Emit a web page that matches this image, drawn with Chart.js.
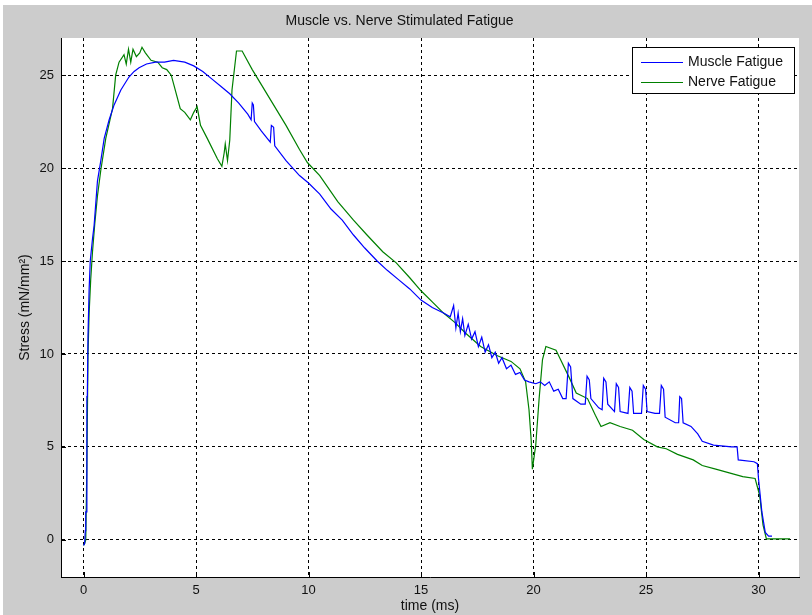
<!DOCTYPE html>
<html>
<head>
<meta charset="utf-8">
<title>Muscle vs. Nerve Stimulated Fatigue</title>
<script src="https://cdn.jsdelivr.net/npm/chart.js@4.4.1/dist/chart.umd.min.js"></script>
<style>
  html, body { margin: 0; padding: 0; background: #fff; }
  canvas { display: block; }
</style>
</head>
<body>
<canvas id="chart" width="812" height="615"></canvas>
<script>
// values: time in ms, stress in mN/mm^2
const muscleTime = [
  0.00, 0.05, 0.08, 0.10, 0.13, 0.15, 0.17, 0.20, 0.25, 0.30, 0.40, 0.47, 0.62, 0.77, 0.92,
  1.14, 1.36, 1.66, 2.02, 2.25, 2.47, 2.80, 3.20, 3.60, 4.00, 4.50, 4.90, 5.30, 5.70, 6.10,
  6.50, 6.90, 7.30, 7.45, 7.50, 7.55, 7.60, 7.90, 8.30, 8.35, 8.45, 8.50, 9.00, 9.60, 10.00,
  10.50, 11.00, 11.50, 12.00, 12.50, 13.05, 13.50, 14.00, 14.50, 15.00, 15.50, 16.00, 16.30,
  16.45, 16.55, 16.65, 16.75, 16.85, 16.95, 17.10, 17.25, 17.40, 17.55, 17.70, 17.85, 18.00,
  18.15, 18.30, 18.45, 18.60, 18.80, 19.00, 19.20, 19.40, 19.60, 19.80, 20.10, 20.30, 20.50,
  20.70, 20.90, 21.10, 21.30, 21.45, 21.55, 21.65, 21.75, 22.10, 22.30, 22.38, 22.48, 22.55,
  22.90, 23.05, 23.12, 23.22, 23.30, 23.60, 23.68, 23.78, 23.85, 24.20, 24.28, 24.38, 24.45,
  24.80, 24.88, 24.98, 25.05, 25.40, 25.60, 25.68, 25.78, 25.85, 26.30, 26.45, 26.50, 26.58,
  26.65, 27.00, 27.30, 27.50, 28.00, 28.80, 29.05, 29.10, 29.80, 29.95, 30.00, 30.15, 30.30,
  30.45, 30.60
];
const muscleStress = [
  -0.3, -0.2, 0.5, 1.5, 1.5, 7.7, 7.7, 11.0, 13.5, 15.0, 16.2, 16.9, 19.3, 20.4, 21.6,
  22.6, 23.4, 24.2, 24.9, 25.2, 25.4, 25.6, 25.7, 25.7, 25.8, 25.7, 25.5, 25.2, 24.8, 24.4,
  24.0, 23.5, 22.9, 22.6, 23.5, 23.4, 22.5, 22.0, 21.4, 22.3, 22.2, 21.2, 20.4, 19.6, 19.2,
  18.6, 17.8, 17.2, 16.4, 15.7, 15.0, 14.5, 14.0, 13.5, 12.9, 12.5, 12.2, 12.0,
  12.6, 11.4, 12.2, 11.2, 11.9, 11.0, 11.6, 10.8, 11.2, 10.4, 10.9, 10.1, 10.5,
  9.8, 10.1, 9.5, 9.8, 9.2, 9.4, 8.9, 9.0, 8.6, 8.5, 8.4, 8.5, 8.3,
  8.5, 8.0, 8.1, 7.6, 7.6, 9.5, 9.3, 7.6, 7.3, 7.3, 8.8, 8.6, 7.6,
  7.1, 7.0, 8.7, 8.5, 7.3, 6.9, 8.4, 8.2, 6.9, 6.8, 8.2, 8.0, 6.8,
  6.8, 8.3, 8.1, 6.9, 6.8, 6.8, 8.3, 8.1, 6.6, 6.3, 6.3, 7.7, 7.6,
  6.3, 6.1, 5.7, 5.3, 5.1, 5.0, 5.0, 4.3, 4.2, 4.1, 3.3, 1.5, 0.4,
  0.2, 0.2
];

const nerveTime = [
  0.00, 0.05, 0.10, 0.15, 0.20, 0.25, 0.32, 0.40, 0.50, 0.62, 0.77, 0.99, 1.29, 1.43, 1.58,
  1.80, 1.90, 2.00, 2.10, 2.20, 2.35, 2.50, 2.60, 2.75, 3.00, 3.30, 3.50, 3.70, 3.90, 4.10,
  4.30, 4.50, 4.75, 4.90, 5.05, 5.20, 5.50, 5.95, 6.15, 6.25, 6.30, 6.40, 6.50, 6.60, 6.80,
  7.05, 7.50, 8.30, 9.00, 9.60, 9.95, 10.50, 11.30, 12.00, 12.60, 13.30, 13.90, 14.50, 15.00,
  15.50, 16.00, 16.50, 17.00, 17.65, 18.40, 19.00, 19.40, 19.65, 19.80, 19.90, 19.95, 20.10,
  20.25, 20.40, 20.55, 21.00, 21.20, 21.60, 21.90, 22.40, 22.75, 23.00, 23.40, 23.85, 24.40,
  24.90, 25.50, 25.90, 26.40, 27.10, 27.50, 28.10, 28.70, 29.30, 29.85, 30.05, 30.20, 30.35,
  31.40
];
const nerveStress = [
  -0.3, -0.2, 0.0, 4.0, 10.0, 12.2, 14.0, 15.5, 17.0, 18.5, 19.9, 21.6, 23.2, 25.0, 25.7,
  26.1, 25.6, 26.4, 25.7, 26.4, 26.0, 26.2, 26.5, 26.2, 25.8, 25.7, 25.4, 25.3, 25.0, 24.1,
  23.2, 23.0, 22.6, 23.0, 23.3, 22.3, 21.6, 20.5, 20.1, 20.8, 21.3, 20.4, 21.5, 24.2, 26.3,
  26.3, 25.3, 23.7, 22.3, 21.0, 20.3, 19.6, 18.2, 17.2, 16.4, 15.5, 14.9, 14.1, 13.4,
  12.8, 12.2, 11.7, 11.1, 10.4, 9.9, 9.6, 9.2, 8.5, 7.0, 5.3, 3.8, 5.1,
  7.6, 9.7, 10.4, 10.2, 9.7, 8.7, 7.9, 7.6, 6.7, 6.1, 6.3, 6.1, 5.9,
  5.4, 5.0, 4.9, 4.6, 4.3, 4.0, 3.8, 3.6, 3.4, 3.3, 2.4, 0.8, 0.05,
  0.05
];

const seriesNames = ['Muscle Fatigue', 'Nerve Fatigue'];
const seriesColors = ['#0000ff', '#008000'];
const xTicks = [0, 5, 10, 15, 20, 25, 30];
const yTicks = [0, 5, 10, 15, 20, 25];

const FONT = '"Liberation Sans", Arial, sans-serif';

function toPoints(xs, ys) {
  return xs.map((x, i) => ({ x: x, y: ys[i] }));
}

// gray figure background + white axes area
const backdrop = {
  id: 'backdrop',
  beforeDraw(chart) {
    const { ctx, chartArea: a } = chart;
    ctx.save();
    ctx.fillStyle = '#ffffff';
    ctx.fillRect(0, 0, chart.width, chart.height);
    ctx.fillStyle = '#cccccc';
    ctx.fillRect(3, 5, chart.width - 3, chart.height - 5);
    ctx.fillStyle = '#ffffff';
    ctx.fillRect(a.left, a.top, a.right - a.left, a.bottom - a.top);
    ctx.restore();
  }
};

// inward tick marks like the original figure
const innerTicks = {
  id: 'innerTicks',
  afterDraw(chart) {
    const { ctx, chartArea: a, scales } = chart;
    ctx.save();
    ctx.strokeStyle = '#000';
    ctx.lineWidth = 1;
    ctx.beginPath();
    xTicks.forEach(v => {
      const px = Math.round(scales.x.getPixelForValue(v)) + 0.5;
      ctx.moveTo(px, a.bottom);
      ctx.lineTo(px, a.bottom - 5);
    });
    yTicks.forEach(v => {
      const py = Math.round(scales.y.getPixelForValue(v)) + 0.5;
      ctx.moveTo(a.left, py);
      ctx.lineTo(a.left + 5, py);
    });
    ctx.stroke();
    ctx.restore();
  }
};

// boxed legend in the upper right corner of the axes
const boxLegend = {
  id: 'boxLegend',
  afterDraw(chart) {
    const { ctx, chartArea: a } = chart;
    const w = 162, h = 46;
    const x = a.right - 5 - w, y = a.top + 9;
    ctx.save();
    ctx.fillStyle = '#fff';
    ctx.fillRect(x, y, w, h);
    ctx.strokeStyle = '#000';
    ctx.lineWidth = 1;
    ctx.strokeRect(Math.round(x) + 0.5, Math.round(y) + 0.5, w, h);
    ctx.font = '14px ' + FONT;
    ctx.textBaseline = 'middle';
    chart.data.datasets.forEach((ds, i) => {
      const ly = Math.round(y + 15 + i * 20) + 0.5;
      ctx.strokeStyle = ds.borderColor;
      ctx.beginPath();
      ctx.moveTo(x + 9, ly);
      ctx.lineTo(x + 51, ly);
      ctx.stroke();
      ctx.fillStyle = '#111';
      ctx.fillText(ds.label, x + 56, ly);
    });
    ctx.restore();
  }
};

const config = {
  type: 'line',
  data: {
    datasets: [
      {
        label: seriesNames[0],
        data: toPoints(muscleTime, muscleStress),
        borderColor: seriesColors[0],
        borderWidth: 1.2,
        pointRadius: 0,
        tension: 0,
        fill: false
      },
      {
        label: seriesNames[1],
        data: toPoints(nerveTime, nerveStress),
        borderColor: seriesColors[1],
        borderWidth: 1.2,
        pointRadius: 0,
        tension: 0,
        fill: false
      }
    ]
  },
  options: {
    responsive: false,
    animation: false,
    devicePixelRatio: 1,
    layout: { padding: { left: 0, right: 13, top: 0, bottom: 0 } },
    plugins: {
      legend: { display: false },
      tooltip: { enabled: false },
      title: {
        display: true,
        text: 'Muscle vs. Nerve Stimulated Fatigue',
        color: '#111',
        font: { family: FONT, size: 14, weight: 'normal' },
        padding: { top: 13, bottom: 8.2 }
      }
    },
    scales: {
      x: {
        type: 'linear',
        min: -1,
        max: 31.8,
        afterBuildTicks: s => { s.ticks = xTicks.map(v => ({ value: v })); },
        afterFit: s => { s.height = 38; },
        ticks: { color: '#111', padding: 6, font: { family: FONT, size: 13 } },
        grid: { color: '#000', lineWidth: 1, drawTicks: false },
        border: { display: true, color: '#000', width: 1, dash: [3, 3] },
        title: {
          display: true,
          text: 'time (ms)',
          color: '#111',
          font: { family: FONT, size: 14 },
          padding: { top: 0, bottom: 0 }
        }
      },
      y: {
        type: 'linear',
        min: -2,
        max: 27,
        afterBuildTicks: s => { s.ticks = yTicks.map(v => ({ value: v })); },
        afterFit: s => { s.width = 61; },
        ticks: { color: '#111', padding: 7, font: { family: FONT, size: 13 } },
        grid: { color: '#000', lineWidth: 1, drawTicks: false },
        border: { display: true, color: '#000', width: 1, dash: [3, 3] },
        title: {
          display: true,
          text: 'Stress (mN/mm²)',
          color: '#111',
          font: { family: FONT, size: 14 },
          padding: { top: 17, bottom: 0 }
        }
      }
    }
  },
  plugins: [backdrop, innerTicks, boxLegend]
};

new Chart(document.getElementById('chart').getContext('2d'), config);
</script>
</body>
</html>
